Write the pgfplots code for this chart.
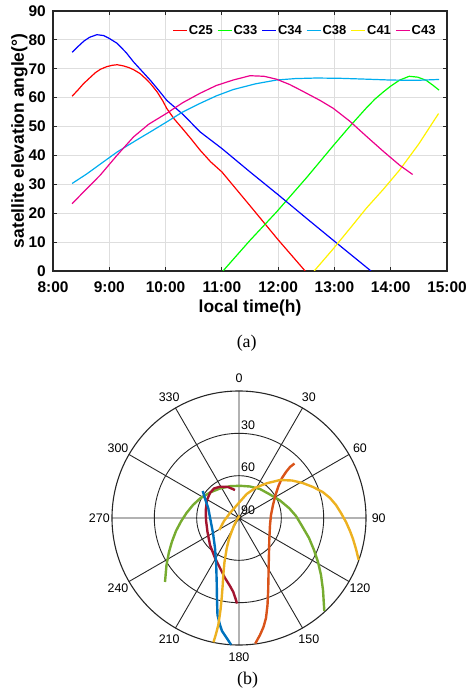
\documentclass[border=0pt]{standalone}
\usepackage{fontspec}
\setmainfont{Liberation Sans}
\newfontfamily\timesfont{Liberation Serif}
\usepackage{pgfplots}
\pgfplotsset{compat=1.18}
\usepgfplotslibrary{polar}
\definecolor{mblue}{HTML}{0072BD}
\definecolor{morange}{HTML}{D95319}
\definecolor{myellow}{HTML}{EDB120}
\definecolor{mred}{HTML}{A2142F}
\definecolor{mgreen}{HTML}{77AC30}
\begin{document}
\begin{tikzpicture}
\path[use as bounding box] (0,0) rectangle (466bp,694bp);
\begin{axis}[
  at={(53bp,423bp)}, anchor=south west,
  scale only axis, width=394bp, height=260bp,
  xmin=8, xmax=15, ymin=0, ymax=90,
  xtick={8,9,...,15},
  xticklabels={8:00,9:00,10:00,11:00,12:00,13:00,14:00,15:00},
  ytick={0,10,...,90},
  /pgf/number format/assume math mode=true,
  ticklabel style={font=\fontsize{15.5}{18}\selectfont\bfseries, inner sep=0pt},
  xticklabel style={anchor=center, yshift=-16bp},
  yticklabel style={anchor=east, xshift=-7bp},
  tick align=inside, major tick length=4bp,
  tick style={black!85, line width=0.8bp},
  grid=major, major grid style={line width=0.8bp, color=black!13},
  axis line style={line width=1.1bp, color=black!85},
  xlabel={local time(h)}, ylabel={satellite elevation angle(°)},
  label style={font=\fontsize{17.5}{20}\selectfont\bfseries},
  xlabel style={at={(axis description cs:0.5,-0.1423)}, anchor=center},
  ylabel style={at={(axis description cs:-0.085,0.5)}, anchor=center},
  legend columns=-1,
  legend style={draw=none, fill=none, at={(1,1)}, anchor=north east, xshift=-7bp, yshift=-11bp,
    font=\fontsize{13}{15}\selectfont\bfseries, nodes={inner sep=1.3bp},
    /tikz/every even column/.append style={column sep=3bp}},
  legend image code/.code={\draw[#1, line width=1.2bp] (0bp,0bp) -- (14bp,0bp);},
  every axis plot/.append style={line width=1.2bp},
]
\addplot[red] coordinates {(8.34,60.5) (8.45,62.8) (8.54,64.8) (8.65,66.8) (8.75,68.6) (8.84,69.8) (8.95,70.7) (9.05,71.2) (9.14,71.4) (9.25,71.0) (9.35,70.4) (9.43,69.7) (9.55,68.3) (9.65,66.5) (9.73,64.9) (9.85,62.0) (9.95,58.9) (10.02,56.3) (10.15,52.7) (10.3,49.3) (10.45,45.8) (10.61,41.9) (10.8,37.8) (11.0,34.3) (11.5,22.6) (12.0,10.8) (12.48,0)};
\addlegendentry{C25}
\addplot[green] coordinates {(11.02,0) (11.5,10.6) (11.97,20.4) (12.5,32.2) (12.98,43.4) (13.27,50.0) (13.57,56.5) (13.72,59.5) (13.87,62.0) (14.0,64.0) (14.16,66.1) (14.33,67.4) (14.48,67.1) (14.63,66.0) (14.75,64.3) (14.86,62.6)};
\addlegendentry{C33}
\addplot[blue] coordinates {(8.34,75.7) (8.45,77.8) (8.55,79.6) (8.65,80.9) (8.78,81.8) (8.9,81.5) (9.0,80.5) (9.14,78.8) (9.3,75.6) (9.43,72.4) (9.58,69.2) (9.73,66.0) (9.88,62.5) (10.02,59.1) (10.32,54.0) (10.61,48.2) (11.0,42.4) (11.5,34.3) (12.0,26.4) (12.5,18.3) (13.0,10.3) (13.65,0)};
\addlegendentry{C34}
\addplot[cyan] coordinates {(8.34,30.3) (8.6,33.6) (8.84,37.0) (9.14,41.2) (9.5,45.5) (9.75,48.4) (10.02,51.6) (10.3,55.0) (10.61,58.0) (10.9,60.6) (11.2,62.8) (11.6,64.8) (11.97,66.1) (12.3,66.6) (12.68,66.8) (13.1,66.7) (13.57,66.4) (14.0,66.1) (14.46,66.0) (14.86,66.3)};
\addlegendentry{C38}
\addplot[yellow] coordinates {(12.64,0) (12.98,7.7) (13.3,15.3) (13.57,21.8) (13.87,28.3) (14.16,35.0) (14.5,44.0) (14.85,54.5)};
\addlegendentry{C41}
\addplot[magenta] coordinates {(8.34,23.3) (8.5,26.5) (8.84,33.2) (9.14,40.1) (9.43,46.4) (9.7,50.8) (10.02,54.6) (10.3,58.2) (10.61,61.5) (10.9,64.2) (11.2,66.1) (11.5,67.6) (11.75,67.4) (11.97,66.4) (12.2,64.6) (12.39,62.7) (12.74,59.1) (12.98,56.3) (13.27,51.9) (13.57,46.6) (13.87,41.4) (14.16,36.6) (14.39,33.4)};
\addlegendentry{C43}
\end{axis}
\node[font=\timesfont\fontsize{18}{20}\selectfont] at (246.7bp,351bp) {(a)};
\begin{polaraxis}[
  at={(239bp,176bp)}, anchor=center,
  scale only axis, width=254bp, height=254bp,
  xmin=0, xmax=360, ymin=0, ymax=90,
  xtick={0,30,...,330}, xticklabels={,,,,,,,,,,,},
  ytick={30,60}, yticklabels={,},
  grid=major, major grid style={black!85, line width=0.9bp},
  axis line style={black!85, line width=1.1bp},
  y axis line style={opacity=0},
  major tick length=0pt,
  clip=false,
  every axis plot/.append style={line width=2.4bp, data cs=cart},
]
\addplot[mgreen] coordinates {(-52.44,-45.35) (-51.38,-33.31) (-49.61,-24.09) (-47.48,-16.65) (-44.65,-9.21) (-41.10,-2.48) (-37.20,3.54) (-32.60,9.21) (-27.64,13.82) (-20.55,18.07) (-13.46,20.91) (-6.38,22.54) (0.71,22.82) (7.80,22.32) (14.88,20.55) (21.97,16.65) (29.06,12.40) (35.65,6.87) (40.39,1.42) (44.65,-5.67) (49.61,-14.17) (53.15,-22.68) (55.98,-31.18) (58.11,-40.39) (59.53,-51.02) (60.45,-65.91)};
\addplot[mred] coordinates {(-2.83,19.84) (-7.80,21.97) (-13.46,22.18) (-17.72,20.91) (-20.55,17.72) (-22.68,12.76) (-23.53,5.67) (-23.39,-1.42) (-22.32,-9.92) (-20.55,-19.13) (-17.01,-28.35) (-13.46,-35.43) (-9.92,-42.52) (-6.38,-48.19) (-4.04,-52.44) (-2.13,-58.11) (-1.42,-60.59)};
\addplot[mblue] coordinates {(-25.72,19.13) (-23.74,12.76) (-21.76,6.87) (-20.20,-1.42) (-18.43,-10.63) (-17.01,-21.26) (-16.16,-33.31) (-15.80,-45.35) (-15.59,-58.11) (-15.24,-68.74) (-13.46,-75.83) (-12.05,-80.08) (-9.21,-84.33) (-5.6,-89.8)};
\addplot[morange] coordinates {(39.33,38.62) (36.14,36.14) (33.31,32.60) (30.47,28.35) (27.99,22.68) (25.87,16.30) (24.09,9.21) (22.68,2.13) (21.97,-4.96) (21.47,-15.59) (21.05,-33.31) (20.69,-51.02) (20.20,-61.65) (19.13,-70.87) (17.36,-77.24) (14.88,-82.91) (11.55,-88.94)};
\addplot[myellow] coordinates {(-13.96,-8.50) (-10.63,-2.13) (-6.38,3.54) (-1.42,9.21) (5.46,17.01) (12.05,21.61) (19.63,24.59) (29.06,26.93) (37.56,26.57) (45.14,24.80) (52.44,21.97) (59.31,18.43) (64.49,14.17) (68.74,9.21) (72.28,3.54) (75.83,-2.83) (78.66,-9.21) (80.79,-14.88) (82.91,-21.97) (84.83,-29.76)};
\addplot[myellow] coordinates {(-18.1,-88.1) (-16.30,-82.20) (-14.67,-75.83) (-13.11,-65.20) (-12.26,-56.69) (-11.55,-47.48) (-11.13,-40.39) (-10.28,-31.18) (-8.72,-21.61) (-7.09,-14.88) (-5.17,-9.57) (-3.54,-5.31) (-1.63,-1.42) (0.35,1.77)};
\begin{scope}[every node/.style={font=\fontsize{12.5}{14}\selectfont, inner sep=0pt}]
\node at (axis cs:90,99) {0};
\node at (axis cs:60,99) {30};
\node at (axis cs:30,99) {60};
\node at (axis cs:0,99) {90};
\node at (axis cs:-30,99) {120};
\node at (axis cs:-60,99) {150};
\node at (axis cs:-90,99) {180};
\node at (axis cs:-120,99) {210};
\node at (axis cs:-150,99) {240};
\node at (axis cs:180,99) {270};
\node at (axis cs:150,99) {300};
\node at (axis cs:120,99) {330};
\node[anchor=south west, xshift=2bp, yshift=3.5bp] at (axis cs:90,60) {30};
\node[anchor=south west, xshift=2bp, yshift=3.5bp] at (axis cs:90,30) {60};
\node[anchor=south west, xshift=2bp, yshift=3.5bp] at (axis cs:90,0) {90};
\end{scope}
\end{polaraxis}
\node[font=\timesfont\fontsize{18}{20}\selectfont] at (247.7bp,14bp) {(b)};
\end{tikzpicture}
\end{document}
